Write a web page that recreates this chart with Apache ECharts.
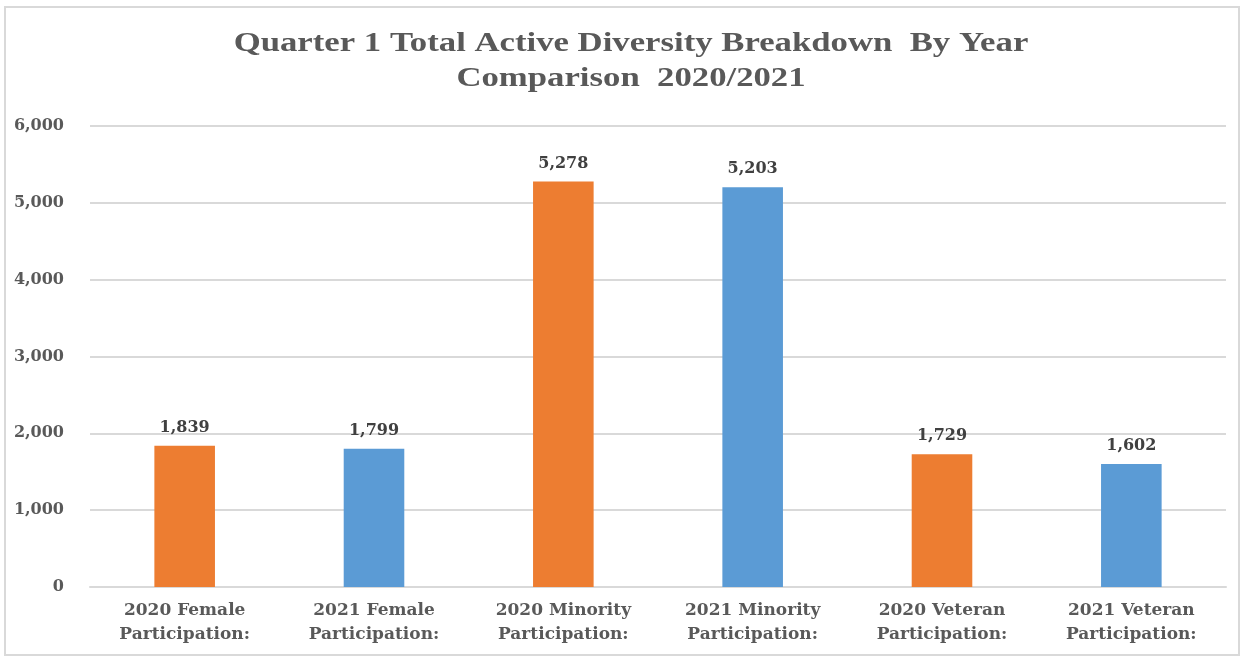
<!DOCTYPE html>
<html><head><meta charset="utf-8">
<script src="https://cdn.jsdelivr.net/npm/echarts@6/dist/echarts.min.js"></script>
<style>
html,body{margin:0;padding:0;background:#fff;}
#wrap{position:absolute;left:4px;top:6px;width:1236px;height:650px;border:2px solid #d9d9d9;box-sizing:border-box;}
#c{position:absolute;left:0;top:0;width:1244px;height:659px;}
</style></head>
<body>
<div id="wrap"></div>
<div id="c"></div>
<script>
const categories = ["2020 Female\nParticipation:", "2021 Female\nParticipation:", "2020 Minority\nParticipation:", "2021 Minority\nParticipation:", "2020 Veteran\nParticipation:", "2021 Veteran\nParticipation:"];
const values = [1839, 1799, 5278, 5203, 1729, 1602];
const barColors = ["#ED7D31", "#5B9BD5", "#ED7D31", "#5B9BD5", "#ED7D31", "#5B9BD5"];
const titleLines = ["Quarter 1 Total Active Diversity Breakdown  By Year", "Comparison  2020/2021"];

const chart = echarts.init(document.getElementById('c'), null, {renderer:'canvas'});
const font2 = "'DejaVu Serif', serif";
chart.setOption({
  animation:false,
  graphic: titleLines.map((t,i)=>({
    type:'text', x:631, y: 44 + i*35, scaleX:1.24, scaleY:1, originX:0, originY:0,
    style:{text:t, fill:'#595959', fontFamily:"'Liberation Serif', serif", fontSize:28, fontWeight:'bold', align:'center', verticalAlign:'middle'}
  })),
  grid:{left:90, right:18, top:126, bottom:72, containLabel:false},
  xAxis:{
    type:'category', data:categories,
    axisLine:{lineStyle:{color:'#d9d9d9', width:2}},
    axisTick:{show:false},
    axisLabel:{fontFamily:font2, fontSize:17, fontWeight:'bold', color:'#595959', lineHeight:24, margin:12, interval:0}
  },
  yAxis:{
    type:'value', min:0, max:6000, interval:1000,
    axisLine:{show:false}, axisTick:{show:false},
    splitLine:{lineStyle:{color:'#d9d9d9', width:2}},
    axisLabel:{fontFamily:font2, fontSize:16, fontWeight:'bold', color:'#595959', margin:26,
      formatter:v=>v.toLocaleString('en-US')}
  },
  series:[{
    type:'bar', barWidth:'32%',
    data: values.map((v,i)=>({value:v, itemStyle:{color:barColors[i]}})),
    label:{show:true, position:'top', distance:10, fontFamily:font2, fontSize:16, fontWeight:'bold', color:'#404040',
      formatter:p=>p.value.toLocaleString('en-US')}
  }]
});
</script>
</body></html>
